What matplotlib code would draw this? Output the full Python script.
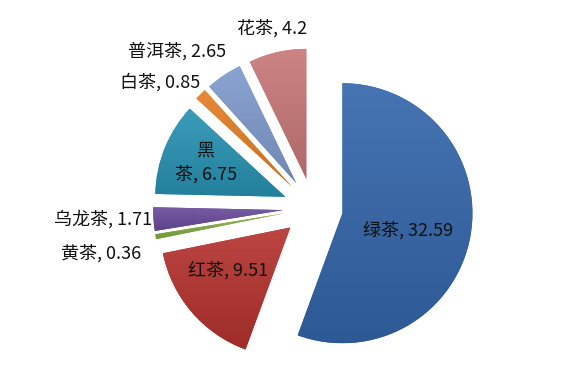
import matplotlib
matplotlib.use("Agg")
import matplotlib.pyplot as plt  # noqa: E402
import numpy as np  # noqa: E402
from matplotlib.colors import to_rgb  # noqa: E402

plt.rcParams["font.family"] = ["Noto Sans CJK SC", "DejaVu Sans"]

teas = ["绿茶", "红茶", "黄茶", "乌龙茶", "黑茶", "白茶", "普洱茶", "花茶"]
values = [32.59, 9.51, 0.36, 1.71, 6.75, 0.85, 2.65, 4.2]
colors = ["#3466AB", "#B5332F", "#86AE46", "#6A4C9C",
          "#2893B3", "#E47F26", "#7F9BCD", "#C87878"]

# label layout: distance from pie centre (radii) and angle shift (deg)
label_dist = [0.75, 0.81, 1.67, 1.62, 0.89, 1.52, 1.6, 1.41]
label_shift = [-4, -4, 2, -1, -1, 6, 7, 0]


def shade(c, f):
    rgb = np.array(to_rgb(c))
    if f >= 0:
        return rgb + (1 - rgb) * f
    return rgb * (1 + f)


fig = plt.figure(figsize=(5.66, 3.87), dpi=100)
ax = fig.add_axes([0, 0, 1, 1])

wedges, _ = ax.pie(values, explode=[0.23] * len(values), startangle=90,
                   counterclock=False, colors=colors,
                   wedgeprops=dict(linewidth=0))

for w, c in zip(wedges, colors):
    bb = w.get_path().get_extents()
    t = np.linspace(0, 1, 200)[:, None, None]
    grad = shade(c, 0.09) * (1 - t) + shade(c, -0.13) * t
    im = ax.imshow(grad, extent=(bb.x0, bb.x1, bb.y0, bb.y1),
                   aspect="auto", interpolation="bilinear", zorder=2)
    im.set_clip_path(w)

for w, name, v, d, s in zip(wedges, teas, values, label_dist, label_shift):
    mid = np.deg2rad((w.theta1 + w.theta2) / 2 + s)
    txt = f"{name}, {v:g}"
    if name == "黑茶":
        txt = f"黑\n茶, {v:g}"
    ax.text(d * np.cos(mid), d * np.sin(mid), txt, ha="center", va="center",
            fontsize=13, color="#111111", zorder=3, linespacing=1.5)

# centre at (313, 208) px, radius 130 px
ax.set_xlim(-313 / 130, (566 - 313) / 130)
ax.set_ylim(-(387 - 208) / 130, 208 / 130)
ax.axis("off")

fig.savefig("out.png", dpi=100)
